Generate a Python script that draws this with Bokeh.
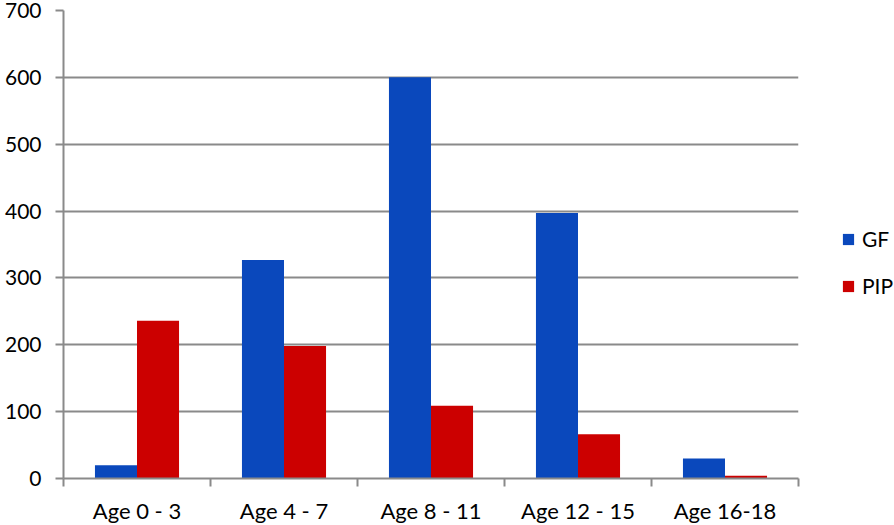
from bokeh.plotting import figure
from bokeh.models import ColumnDataSource, FixedTicker, Legend, LegendItem, Range1d
from bokeh.transform import dodge
from bokeh.embed import file_html
from bokeh.resources import INLINE

categories = ["Age 0 - 3", "Age 4 - 7", "Age 8 - 11", "Age 12 - 15", "Age 16-18"]
gf = [20, 327, 600, 397, 30]
pip = [236, 198, 109, 66, 4]
y_ticks = [0, 100, 200, 300, 400, 500, 600, 700]

centers = [i + 0.5 for i in range(len(categories))]
src = ColumnDataSource(dict(x=centers, gf=gf, pip=pip))

FONT = "Lato"
GRAY = "#8a8a8a"

p = figure(width=894, height=525, output_backend="svg", toolbar_location=None,
           x_range=Range1d(0, len(categories)), y_range=Range1d(0, 700),
           frame_width=735, frame_height=468,
           min_border_left=63, min_border_right=10, min_border_top=10, min_border_bottom=47)
p.outline_line_color = None
p.background_fill_color = "white"

bw = 0.286
r1 = p.vbar(x=dodge("x", -bw / 2, range=p.x_range), top="gf", width=bw, source=src,
            fill_color="#0A48BC", line_color=None)
r2 = p.vbar(x=dodge("x", bw / 2, range=p.x_range), top="pip", width=bw, source=src,
            fill_color="#CC0000", line_color=None)

# x axis
p.xaxis.ticker = FixedTicker(ticks=centers, minor_ticks=list(range(len(categories) + 1)))
p.xaxis.major_label_overrides = {c: lab for c, lab in zip(centers, categories)}
p.xaxis.major_tick_out = 0
p.xaxis.major_tick_in = 0
p.xaxis.minor_tick_out = 8
p.xaxis.minor_tick_in = 0
p.xaxis.minor_tick_line_color = GRAY
p.xaxis.minor_tick_line_width = 2
p.xaxis.axis_line_color = GRAY
p.xaxis.axis_line_width = 2
p.xaxis.major_label_text_font = FONT
p.xaxis.major_label_text_font_size = "22px"
p.xaxis.major_label_text_color = "black"
p.xaxis.major_label_standoff = 10

# y axis
p.yaxis.ticker = FixedTicker(ticks=y_ticks, minor_ticks=[])
p.yaxis.major_tick_out = 8
p.yaxis.major_tick_in = 0
p.yaxis.major_tick_line_color = GRAY
p.yaxis.major_tick_line_width = 2
p.yaxis.axis_line_color = GRAY
p.yaxis.axis_line_width = 2
p.yaxis.major_label_text_font = FONT
p.yaxis.major_label_text_font_size = "21px"
p.yaxis.major_label_text_color = "black"
p.yaxis.major_label_standoff = 14

p.xgrid.grid_line_color = None
p.ygrid.ticker = FixedTicker(ticks=y_ticks[1:])
p.ygrid.grid_line_color = GRAY
p.ygrid.grid_line_width = 2

legend = Legend(items=[LegendItem(label="GF", renderers=[r1]),
                       LegendItem(label="PIP", renderers=[r2])],
                location=(43, 180), orientation="vertical",
                border_line_color=None, background_fill_alpha=0,
                glyph_width=14, glyph_height=14, label_height=20,
                spacing=22, padding=0, margin=0,
                label_text_font=FONT, label_text_font_size="21px",
                label_text_color="black", label_standoff=7)
p.add_layout(legend, "right")

open("out.html", "w").write(file_html(p, INLINE))
